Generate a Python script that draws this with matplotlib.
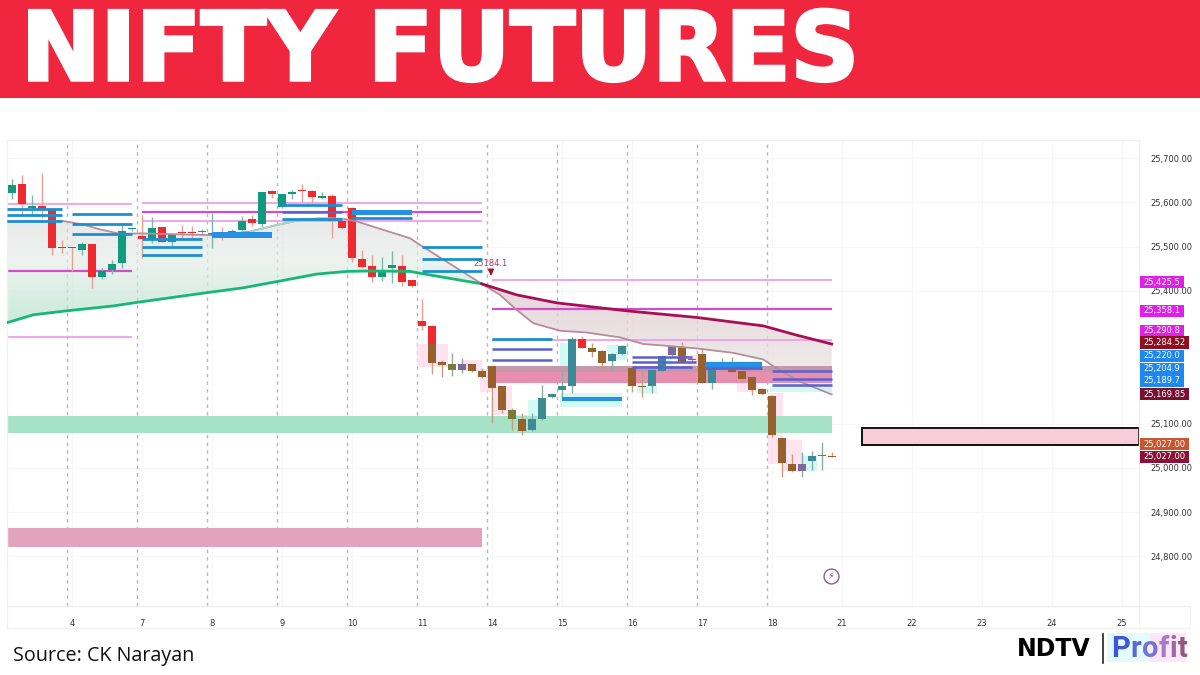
import numpy as np
import matplotlib
matplotlib.use('Agg')
import matplotlib.pyplot as plt
import matplotlib.patheffects as pe
from matplotlib.patches import Rectangle
from matplotlib.transforms import blended_transform_factory
from matplotlib.colors import to_rgb

# candles: low side of body, high side of body, wicks
opens = [25622,25641,25587,25592,25586,25498,25498,25492,25507,25431,25447,25462,25539,25524,25517,25545,25511,25533,25532,25532,
         25523,25528,25524,25538,25562,25551,25626,25589,25620,25628,25626,25610,25614,25559,25587,25472,25457,25432,25452,25457,
         25424,25331,25321,25239,25221,25221,25234,25218,25230,25186,25130,25110,25086,25110,25160,25176,25185,25291,25272,25265,
         25242,25257,25225,25185,25185,25220,25255,25274,25245,25257,25193,25230,25229,25218,25206,25178,25163,25067,25010,24992,
         25016,25026,25028]
closes = [25639,25596,25592,25585,25498,25496,25496,25507,25431,25446,25461,25536,25541,25518,25542,25510,25526,25531,25530,25536,
          25530,25525,25536,25557,25554,25623,25618,25619,25624,25626,25613,25614,25558,25542,25474,25454,25432,25447,25458,25419,
          25410,25321,25236,25232,25234,25234,25218,25206,25180,25131,25110,25084,25110,25159,25168,25185,25291,25272,25262,25238,
          25257,25276,25184,25182,25221,25253,25276,25239,25243,25193,25221,25235,25216,25202,25176,25166,25074,25012,24992,25009,
          25026,25027,25025]
highs = [25654,25662,25617,25667,25586,25515,25500,25511,25507,25451,25470,25553,25545,25572,25566,25545,25530,25549,25547,25539,
         25575,25545,25539,25569,25572,25624,25628,25620,25627,25642,25628,25624,25620,25560,25589,25492,25481,25476,25491,25481,
         25425,25381,25322,25244,25259,25248,25225,25225,25231,25186,25135,25123,25123,25187,25170,25221,25296,25297,25282,25266,
         25259,25278,25229,25218,25221,25255,25278,25285,25248,25270,25221,25248,25251,25221,25210,25180,25165,25067,25032,25037,
         25038,25058,25037]
lows = [25607,25572,25569,25564,25481,25485,25446,25481,25407,25428,25438,25451,25535,25474,25508,25510,25502,25515,25515,25526,
        25496,25515,25521,25536,25547,25544,25609,25587,25607,25602,25598,25607,25519,25541,25466,25451,25421,25423,25417,25410,
        25409,25312,25212,25205,25208,25214,25217,25204,25101,25125,25085,25074,25084,25108,25158,25158,25169,25270,25251,25221,
        25221,25255,25172,25161,25170,25214,25251,25236,25240,25192,25178,25220,25214,25193,25165,25165,25070,24979,24990,24980,
        24995,24995,25024]

fast_x = [-0.53,5.13,7.13,8.8,10.8,12.8,20.13,23.8,26.47,28.8,30.8,33.13,34.47,37.13,39.8,40.87,43.47,46.97,
          48.8,50.47,52.13,54.8,57.47,60.8,63.13,65.47,68.47,72.13,75.13,76.47,78.8,81.97]
fast_y = [25557,25558,25550,25539,25529,25530,25526,25534,25549,25560,25564,25563,25557,25538,25519,25503,25466,25416,
          25391,25357,25327,25310,25306,25295,25280,25276,25270,25260,25245,25225,25195,25166]
slow_x = [-0.53,2.13,5.47,10.13,12.47,19.47,23.13,26.47,30.47,33.47,35.8,39.8,41.8,46.97,
          50.47,54.47,61.47,68.47,75.13,78.47,81.97]
slow_y = [25328,25346,25355,25366,25374,25396,25407,25421,25438,25444,25445,25444,25436,25416,
          25391,25373,25355,25340,25321,25300,25280]

# horizontal levels: first bar, last bar, price
magenta_levels = [(-0.5,12,25446),(13,47,25578),(48,82,25358)]
light_levels = [(-0.5,12,25596),(-0.5,12,25295),(13,47,25598),(13,47,25558),(48,82,25424),(48,82,25288)]
blue_levels = [(-0.5,5,25584),(-0.5,5,25571),(-0.5,5,25557),(6,12,25574),(6,12,25551),(6,12,25529),
               (13,19,25518),(13,19,25499),(13,19,25481),(27,33,25594),(27,33,25563),(34,40,25564),
               (41,47,25500),(41,47,25473),(41,47,25446),(48,54,25291)]
violet_levels = [(27,33,25579),(48,54,25268),(48,54,25244),(62,68,25251),(62,68.4,25239),(62,68,25227),
                 (69.3,75,25226),(76,82,25218),(76,82,25202),(76,82,25187)]
thick_levels = [(20,26,25520,25532),(34,40,25572,25583),(55,61,25151,25161),(69.3,75,25222,25240)]

zone_rows = [(47.9,82,25193,25230),(-0.5,82,25080,25118),(-0.5,47,24822,24865)]
band_shadow = (47.9,82,25216,25230)
pink_boxes = [(40.47,43.57,25229,25280),(44.97,46.97,25220,25244),(46.8,47.97,25172,25223),(47.97,49.97,25120,25186),
              (49.97,51.63,25082,25120),(61.47,62.47,25184,25225),(67.63,69.47,25191,25255),(72.47,74.47,25172,25218),
              (75.63,77.13,25010,25170),(77.13,78.97,24992,25063)]
cyan_boxes = [(51.63,53.3,25082,25154),(54.8,56.3,25229,25282),(54.8,60.97,25138,25170),(59.63,61.47,25244,25278),
              (62.47,64.47,25170,25221),(64.47,65.97,25210,25251),(69.47,70.8,25191,25221),(69.3,74.97,25229,25242),
              (75.8,81.97,25172,25184),(78.97,80.47,24992,25026)]
target_box = (85,112.7,25052,25091)

y_ticks = [25700,25600,25500,25400,25100,25000,24900,24800]
x_tick_labels = ['4','7','8','9','10','11','14','15','16','17','18','21','22','23','24','25']
tag_texts = ['25,425.5','25,358.1','25,290.8','25,284.52','25,220.0','25,204.9','25,189.7','25,169.85','25,027.00','25,027.00']
tag_prices = [25420,25355,25310,25283,25253,25224,25197,25167,25054,25025]
tag_colors = ['#e01fe8','#e01fe8','#e01fe8','#8c0f24','#1e88ee','#1e88ee','#1e88ee','#7a1030','#c8562e','#8a1236']
tag_widths = [44,44,44,49,44,44,44,49,49,49]
profit_colors = ['#3f56d8','#5b66d8','#7272d8','#a878c8','#9a6a9c','#8e5a80']

W, H = 1200, 675
fig = plt.figure(figsize=(12, 6.75), dpi=100, facecolor='white')

# banner
bg = fig.add_axes([0, 0, 1, 1])
bg.set_xlim(0, W)
bg.set_ylim(H, 0)
bg.axis('off')
bg.add_patch(Rectangle((0, 0), W, 98, color='#f0263f', lw=0))
bg.text(21, 54, 'NIFTY FUTURES', color='white', fontsize=68.5, fontweight='bold',
        family='DejaVu Sans', va='center', ha='left',
        path_effects=[pe.withStroke(linewidth=2.5, foreground='white', joinstyle='miter')])
bg.text(13, 656, 'Source: CK Narayan', fontsize=14.2, family='Open Sans', color='#111111',
        fontweight='medium', va='center')

# logo
bg.add_patch(Rectangle((1107, 633), 43, 29, color='#e4fbfb', lw=0))
bg.add_patch(Rectangle((1150, 633), 36, 29, color='#fde6f6', lw=0))
bg.text(1017, 649, 'NDTV', fontsize=17, family='DejaVu Sans', fontweight='bold', color='black', va='center')
bg.plot([1103, 1103], [634, 663], color='#222222', lw=1.2)
renderer = fig.canvas.get_renderer()
pos = 1111
for ch, c in zip('Profit', profit_colors):
    t = bg.text(pos, 649, ch, fontsize=21, family='Roboto', fontweight='bold', color=c, va='center')
    pos = t.get_window_extent(renderer).x1 + 0.5

# chart panel, price and bar axes are placed to the pixel
left, right, top, bottom = 7, 1139, 140, 606
ax = fig.add_axes([left/W, 1-bottom/H, (right-left)/W, (bottom-top)/H])
ax.set_xlim(-0.5, 112.7)
ax.set_ylim(24688, 25741)
ax.patch.set_alpha(0)

n = len(opens)
x = np.arange(n)
tick_x = np.arange(len(x_tick_labels))*7 + 6

for s in ax.spines.values():
    s.set_color('#f0f0f0')
    s.set_linewidth(1)
ax.set_xticks(tick_x, x_tick_labels)
ax.set_yticks(y_ticks, [f'{v:,.2f}' for v in y_ticks])
ax.yaxis.tick_right()
ax.tick_params(length=0, labelsize=6, labelcolor='#333333')
ax.tick_params(axis='x', pad=9)
ax.tick_params(axis='y', pad=8)
ax.grid(True, color='#f7f7f7', lw=0.8)
ax.set_axisbelow(True)

for b in tick_x[:11] - 0.5:
    ax.axvline(b, color='#b4b8bc', lw=1, ls=(0, (2.5, 3)), zorder=1)

# gradient shading between the two averages
def shade(xs, upper, lower, stops, z=1.5):
    poly = ax.fill_between(xs, upper, lower, color='none', lw=0)
    rows = np.linspace(0, 1, 200)
    img = np.zeros((200, 2, 4))
    pos = [s[0] for s in stops]
    for c in range(3):
        img[:, :, c] = np.interp(rows, pos, [to_rgb(s[1])[c] for s in stops])[:, None]
    img[:, :, 3] = np.interp(rows, pos, [s[2] for s in stops])[:, None]
    im = ax.imshow(img, extent=[xs[0], xs[-1], lower.min(), upper.max()], aspect='auto',
                   origin='upper', zorder=z)
    im.set_clip_path(poly.get_paths()[0], transform=ax.transData)

xs = np.linspace(-0.53, 81.97, 500)
fy = np.interp(xs, fast_x, fast_y)
sy = np.interp(xs, slow_x, slow_y)
cross = xs <= 46.97
shade(xs[cross], fy[cross], sy[cross],
      [(0, '#dcdcdc', 0.6), (0.4, '#e6eeea', 0.7), (1, '#b4e2cc', 0.7)])
shade(xs[~cross], sy[~cross], fy[~cross],
      [(0, '#e0ccd2', 0.8), (0.6, '#e8e0e0', 0.8), (1, '#eeeaea', 0.8)])
ax.set_xlim(-0.5, 112.7)
ax.set_ylim(24688, 25741)

for x0, x1, y0, y1 in pink_boxes:
    ax.add_patch(Rectangle((x0, y0), x1-x0, y1-y0, color='#ffdcee', alpha=0.8, lw=0, zorder=2))
for x0, x1, y0, y1 in cyan_boxes:
    ax.add_patch(Rectangle((x0, y0), x1-x0, y1-y0, color='#c8f8f2', alpha=0.8, lw=0, zorder=2))

zone_colors = ['#e88fb0', '#a6e3c6', '#e3a3bd']
for (x0, x1, y0, y1), c in zip(zone_rows, zone_colors):
    ax.add_patch(Rectangle((x0, y0), x1-x0, y1-y0, color=c, lw=0, zorder=2.2))
ax.add_patch(Rectangle((band_shadow[0], band_shadow[2]), band_shadow[1]-band_shadow[0], band_shadow[3]-band_shadow[2],
                       color='#9aa4a4', alpha=0.45, lw=0, zorder=2.3))
ax.add_patch(Rectangle((target_box[0], target_box[2]), target_box[1]-target_box[0], target_box[3]-target_box[2],
                       facecolor='#f8ccd8', edgecolor='black', lw=1.3, zorder=2.2, clip_on=False))

for x0, x1, v in light_levels:
    ax.hlines(v, x0, x1, color='#ef9fe8', lw=1.3, zorder=2.5)
for x0, x1, v in magenta_levels:
    ax.hlines(v, x0, x1, color='#d24ccb', lw=1.6, zorder=2.5)

# candles
for i in x:
    up = closes[i] >= opens[i]
    lo, hi = min(opens[i], closes[i]), max(opens[i], closes[i])
    if i < 42 or i == 57:
        body, wick = ('#119a80', '#7fb8aa') if up else ('#ee2a2e', '#eaa090')
    else:
        body, wick = ('#3b8a95', '#8cae9e') if up else ('#97602c', '#c0a080')
    if i in (44, 50):
        body = '#7b7a38'
    if i in (45, 66, 79):
        body = '#7d6a9a'
    ax.vlines(i, lows[i], highs[i], color=wick, lw=1, zorder=3)
    ax.add_patch(Rectangle((i-0.37, lo), 0.74, max(hi-lo, 3), color=body, lw=0, zorder=3.1))
    if i == 42:
        ax.add_patch(Rectangle((i-0.37, 25280), 0.74, hi-25280, color='#ee2a2e', lw=0, zorder=3.2))

for x0, x1, y0, y1 in thick_levels:
    ax.add_patch(Rectangle((x0, y0), x1-x0, y1-y0, color='#2690e4', lw=0, zorder=3.4))
for lv in blue_levels:
    ax.hlines(lv[2], lv[0], lv[1], color='#1c8fd0', lw=2, zorder=3.5)
for lv in violet_levels:
    ax.hlines(lv[2], lv[0], lv[1], color='#5a60d0', lw=1.8, zorder=3.5)

# the faster average sits under the levels, it turns pale green while rising
ax.plot(fast_x, fast_y, color='#b78c9c', lw=1.3, zorder=3.3)
ax.plot(fast_x[7:12], fast_y[7:12], color='#a8d8c0', lw=1.3, zorder=3.3)
ax.plot(slow_x[:14], slow_y[:14], color='#17b877', lw=2, zorder=4)
ax.plot(slow_x[13:], slow_y[13:], color='#a80f52', lw=2, zorder=4)

ax.text(47.9, 25461, '25184.1', fontsize=6, color='#a5405a', ha='center', va='center', zorder=5)
ax.annotate('', xy=(47.9, 25428), xytext=(47.9, 25450),
            arrowprops=dict(arrowstyle='-|>', color='#a8102c', lw=1.5, mutation_scale=7), zorder=5)

ax.scatter([81.9], [24756], s=115, facecolor='white', edgecolor='#8a5fa8', lw=1, zorder=5)
ax.text(81.9, 24756, '\u26a1', fontsize=7, color='#7a4f98', ha='center', va='center', zorder=6)

# coloured price tags on the right hand axis
tr = blended_transform_factory(ax.transAxes, ax.transData)
w_ax = right - left
for txt, p, c, w in zip(tag_texts, tag_prices, tag_colors, tag_widths):
    ax.add_patch(Rectangle((1+1/w_ax, p-14), w/w_ax, 28, transform=tr, color=c, lw=0, clip_on=False, zorder=6))
    ax.text(1+(1+w/2)/w_ax, p, txt, transform=tr, color='white', fontsize=6, ha='center', va='center',
            clip_on=False, zorder=7)

# bottom strip under the bars
bg.add_patch(Rectangle((7, 606), 1183, 22, facecolor='none', edgecolor='#f2f2f2', lw=1))
bg.plot([1139, 1139], [606, 628], color='#f2f2f2', lw=1)

fig.savefig('out.png', dpi=100)
